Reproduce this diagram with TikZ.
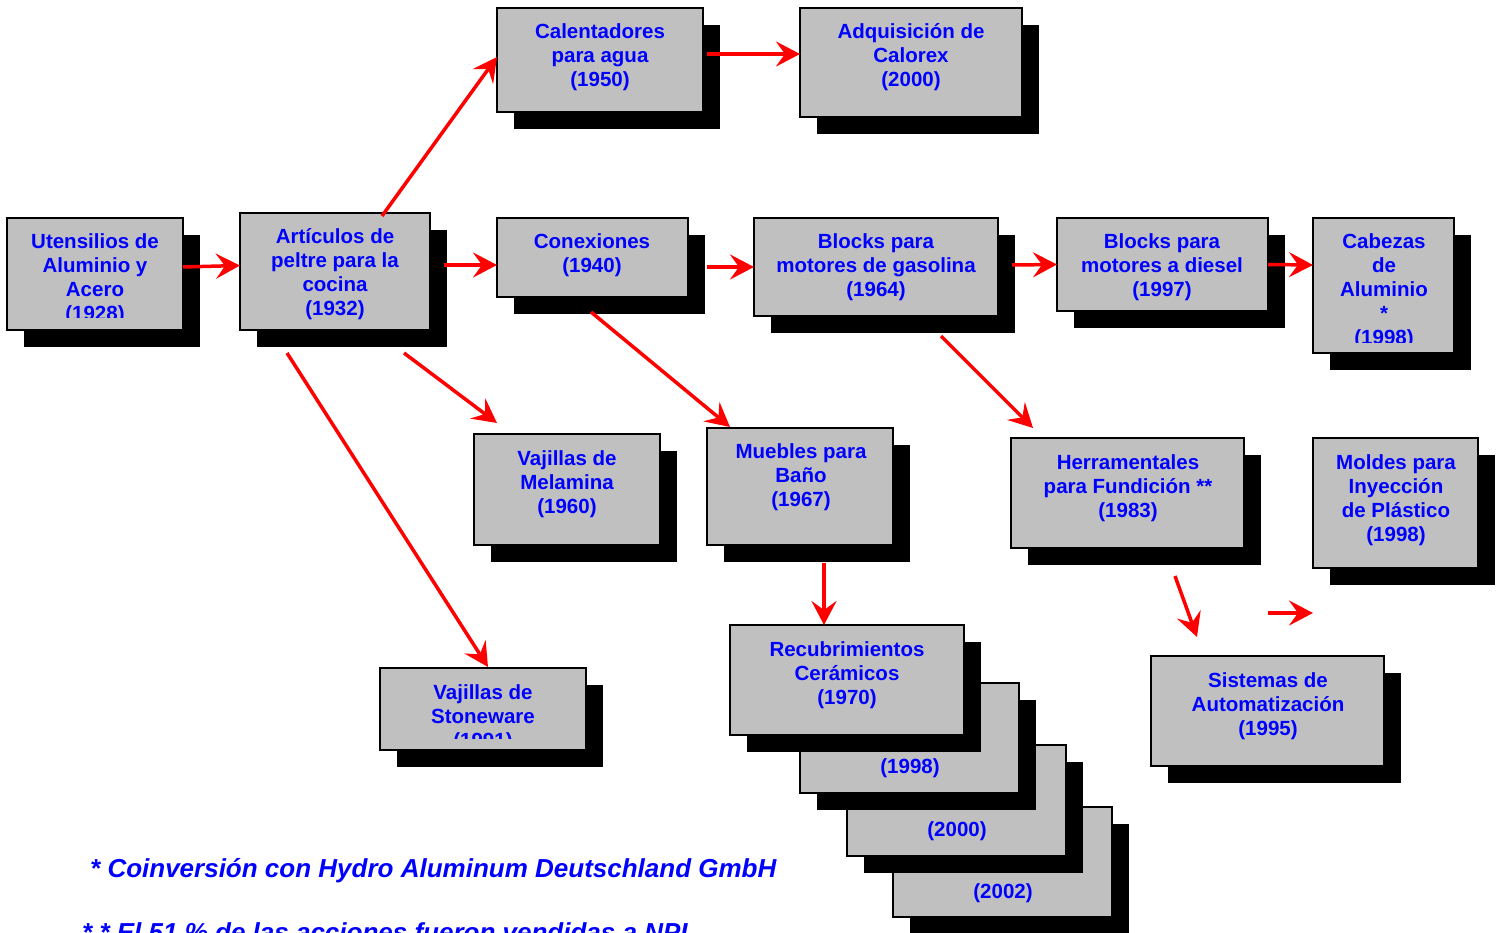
\documentclass[tikz,border=0pt]{standalone}
\usepackage{fontspec}
\setmainfont{Liberation Sans}
\usetikzlibrary{arrows.meta,calc}
\definecolor{boxgray}{HTML}{C0C0C0}
\definecolor{txtblue}{HTML}{0000FF}
\definecolor{arrred}{HTML}{FF0000}
\tikzset{
  gbx/.style={draw=black, fill=boxgray, line width=2.5pt, inner sep=0pt, outer sep=0pt},
  lbl/.style={text=txtblue, font=\fontsize{20.5}{24}\selectfont\bfseries, align=center, inner sep=0pt},
  foot/.style={text=txtblue, font=\fontsize{26}{30}\selectfont\bfseries\itshape, inner sep=0pt, anchor=base west},
  arr/.style={draw=arrred, line width=3.5pt, -{Stealth[length=24pt,width=25pt,inset=9pt]}},
}
\newcommand\gbox[5]{%
  \pgfmathsetmacro\bw{#4-#2}\pgfmathsetmacro\bh{#5-#3}%
  \fill[black] (#2+17,#3+17) rectangle (#4+17,#5+17);
  \node[gbx, minimum width=\bw pt, minimum height=\bh pt] (#1) at ({(#2+#4)/2},{(#3+#5)/2}) {};
}
\begin{document}
\begin{tikzpicture}[x=1pt,y=-1pt]
\useasboundingbox (0,0) rectangle (1502,933);
\clip (0,0) rectangle (1502,933);

% boxes
\gbox{ut}{7}{218}{183}{330}
\gbox{art}{240}{213}{430}{330}
\gbox{cal}{497}{8}{703}{112}
\gbox{adq}{800}{8}{1022}{117}
\gbox{con}{497}{218}{688}{297}
\gbox{bg}{754}{218}{998}{316}
\gbox{bd}{1057}{218}{1268}{311}
\gbox{cab}{1313}{218}{1454}{353}
\gbox{mel}{474}{434}{660}{545}
\gbox{mue}{707}{428}{893}{545}
\gbox{her}{1011}{438}{1244}{548}
\gbox{mol}{1313}{438}{1478}{568}
\gbox{sto}{380}{668}{586}{750}
\gbox{sis}{1151}{656}{1384}{766}
\gbox{rtwo}{893}{807}{1112}{917}
\gbox{rzero}{847}{745}{1066}{856}
\gbox{rnine}{800}{683}{1019}{793}
\gbox{rec}{730}{625}{964}{735}

% labels
\begin{scope}
  \clip (7,218) rectangle (183,318);
  \node[lbl] (t-ut) at (95,279) {Utensilios de\\Aluminio y\\Acero\\(1928)};
\end{scope}
\node[lbl] (t-art) at (335,274.5) {Artículos de\\peltre para la\\cocina\\(1932)};
\node[lbl] (t-cal) at (600,57) {Calentadores\\para agua\\(1950)};
\node[lbl] (t-adq) at (911,57) {Adquisición de\\Calorex\\(2000)};
\node[lbl] (t-con) at (592,255) {Conexiones\\(1940)};
\node[lbl] (t-bg) at (876,267) {Blocks para\\motores de gasolina\\(1964)};
\node[lbl] (t-bd) at (1162,267) {Blocks para\\motores a diesel\\(1997)};
\begin{scope}
  \clip (1313,218) rectangle (1454,342);
  \node[lbl] (t-cab) at (1384,291) {Cabezas\\de\\Aluminio\\*\\(1998)};
\end{scope}
\node[lbl] (t-mel) at (567,484) {Vajillas de\\Melamina\\(1960)};
\node[lbl] (t-mue) at (801,477) {Muebles para\\Baño\\(1967)};
\node[lbl] (t-her) at (1128,488) {Herramentales\\para Fundición **\\(1983)};
\node[lbl] (t-mol) at (1396,500) {Moldes para\\Inyección\\de Plástico\\(1998)};
\begin{scope}
  \clip (380,668) rectangle (586,738);
  \node[lbl] (t-sto) at (483,718) {Vajillas de\\Stoneware\\(1991)};
\end{scope}
\node[lbl] (t-sis) at (1268,706) {Sistemas de\\Automatización\\(1995)};
\node[lbl] (t-rec) at (847,675) {Recubrimientos\\Cerámicos\\(1970)};
\node[lbl] (t-rnine) at (910,768) {(1998)};
\node[lbl] (t-rzero) at (957,831) {(2000)};
\node[lbl] (t-rtwo) at (1003,893) {(2002)};

% footnotes
\node[foot] (f1) at (90,877) {* Coinversión con Hydro Aluminum Deutschland GmbH};
\node[foot] (f2) at (82,941) {* * El 51 \% de las acciones fueron vendidas a NPI};

% connectors
\draw[arr] ([yshift=7pt]ut.east) -- ([yshift=6pt]art.west);
\draw[arr] ([xshift=47pt,yshift=-3pt]art.north) -- ([yshift=3pt]cal.west);
\draw[arr] ([xshift=4pt,yshift=6pt]cal.east) -- ([yshift=8.5pt]adq.west);
\draw[arr] ([xshift=14pt,yshift=6.5pt]art.east) -- ([yshift=-7.5pt]con.west);
\draw[arr] ([xshift=19pt,yshift=-9.5pt]con.east) -- (bg.west);
\draw[arr] ([xshift=14pt,yshift=2pt]bg.east) -- (bd.west);
\draw[arr] (bd.east) -- ([yshift=20.5pt]cab.west);
\draw[arr] ([xshift=69pt,yshift=-23pt]art.south) -- ([xshift=23pt,yshift=11pt]mel.north west);
\draw[arr] ([xshift=-48pt,yshift=-23pt]art.south) -- ([xshift=5pt,yshift=1pt]sto.north);
\draw[arr] ([xshift=-1.5pt,yshift=-15pt]con.south) -- ([xshift=23pt,yshift=1pt]mue.north west);
\draw[arr] ([xshift=65pt,yshift=-20pt]bg.south) -- ([xshift=22pt,yshift=10pt]her.north west);
\draw[arr] ([xshift=24pt,yshift=-18pt]mue.south) -- ([xshift=-23pt]rec.north);
\draw[arr] ([xshift=47.5pt,yshift=-28pt]her.south) -- ([xshift=-70.5pt,yshift=19pt]sis.north);
\draw[arr] ([xshift=0.5pt,yshift=43pt]sis.north) -- ([yshift=-45pt]mol.south west);
\end{tikzpicture}
\end{document}
